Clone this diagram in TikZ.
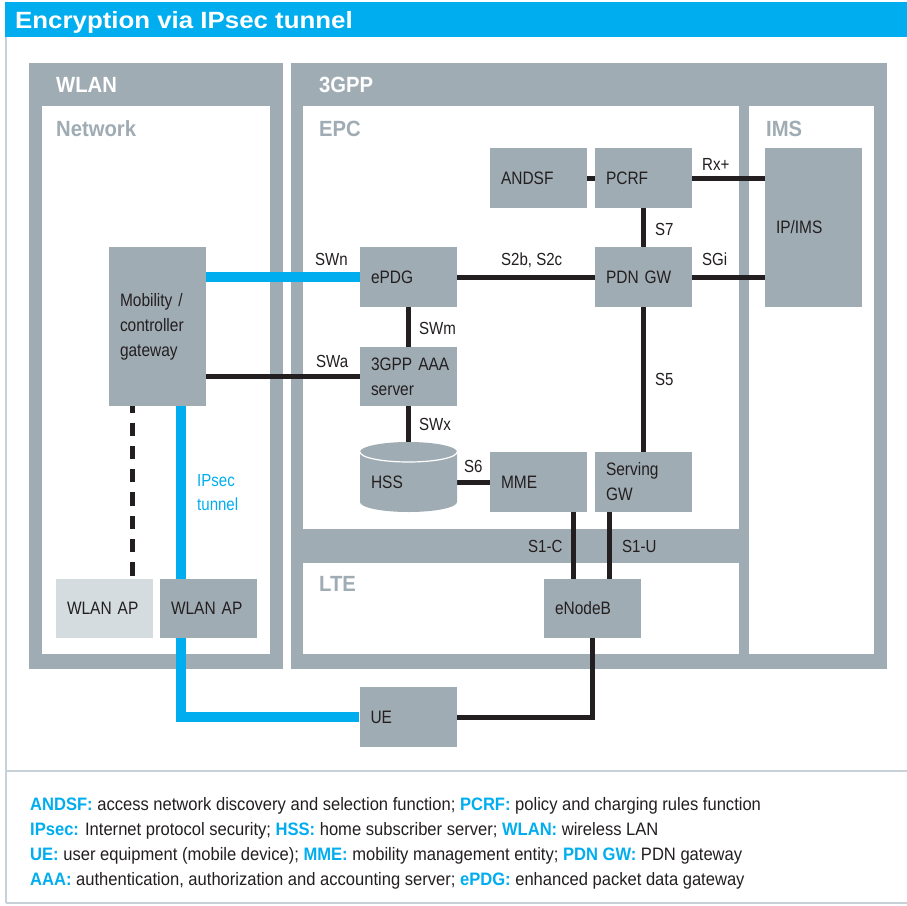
\documentclass[tikz,border=0pt]{standalone}
\usepackage{fontspec}
\setmainfont{Liberation Sans}[FakeStretch=0.86]
\newfontfamily\headfont{Liberation Sans}[FakeStretch=0.92]
\newfontfamily\titlefont{Liberation Sans}[FakeStretch=1.1]
\newfontfamily\legfont{Liberation Sans}[FakeStretch=0.92]

\definecolor{boxgray}{HTML}{A0ACB4}
\definecolor{apgray}{HTML}{D4DCDF}
\definecolor{ipblue}{HTML}{00AEEF}
\definecolor{ink}{HTML}{231F20}
\definecolor{rulegray}{HTML}{C8D1D8}

\pgfdeclarelayer{zones}
\pgfsetlayers{zones,main}

\newcommand\lgkey[1]{\textcolor{ipblue}{\bfseries #1}}

\tikzset{
  box/.style={rectangle, fill=boxgray, text=ink, minimum width=97pt,
    minimum height=60pt, inner xsep=11pt, inner ysep=0pt, text width=75pt,
    align=left, font=\fontsize{18}{25}\selectfont},
  lightbox/.style={box, fill=apgray},
  lbl/.style={anchor=base west, inner sep=0pt, text=ink,
    font=\fontsize{17.5}{21}\selectfont},
  blk/.style={draw=ink, line width=5pt},
  blu/.style={draw=ipblue, line width=9.5pt},
  zonehead/.style={anchor=base west, inner sep=0pt,
    font=\headfont\bfseries\fontsize{22}{26}\selectfont},
  legline/.style={anchor=base west, inner sep=0pt, text=ink,
    font=\legfont\fontsize{18}{20}\selectfont},
  frameline/.style={draw=rulegray, line width=1.5pt},
}

\begin{document}
\begin{tikzpicture}[x=1pt, y=-1pt]
\useasboundingbox (0,0) rectangle (907,905);

% ---------- frame and title ----------
\begin{pgfonlayer}{zones}
  \fill[white] (0,0) rectangle (907,905);
  \draw[frameline] (6,36) -- (6,903);
  \draw[frameline] (6,771) -- (907,771);
  \draw[frameline] (6,903) -- (907,903);
  \fill[ipblue] (5,2) rectangle (907,36.5);

  % WLAN zone
  \fill[boxgray] (29,63) rectangle (283,669);
  \fill[white] (42,106) rectangle (270,654);
  % 3GPP zone
  \fill[boxgray] (291,63) rectangle (887,669);
  \fill[white] (303,106) rectangle (739,529);
  \fill[white] (303,563) rectangle (739,654);
  \fill[white] (749,106) rectangle (874,654);
\end{pgfonlayer}

\node[anchor=base west, inner sep=0pt, text=white,
  font=\titlefont\bfseries\fontsize{23.5}{28}\selectfont] (title) at (15,28)
  {Encryption via IPsec tunnel};

\node[zonehead, text=white] (hwlan) at (56,92) {WLAN};
\node[zonehead, text=white] (h3gpp) at (319,92) {3GPP};
\node[zonehead, text=boxgray] (hnet) at (56,136) {Network};
\node[zonehead, text=boxgray] (hepc) at (319,136) {EPC};
\node[zonehead, text=boxgray] (hims) at (766,136) {IMS};
\node[zonehead, text=boxgray] (hlte) at (319,591) {LTE};

% ---------- network elements ----------
\node[box] (andsf) at (538.5,178) {ANDSF};
\node[box] (pcrf) at (643.5,178) {PCRF};
\node[box, minimum height=159pt] (ipims) at (813.5,227.5) {IP/IMS};
\node[box] (epdg) at (408.5,277) {ePDG};
\node[box] (pdngw) at (643.5,277) {PDN GW};
\node[box, minimum height=159pt] (mobgw) at (157.5,326.5)
  {Mobility /\\controller\\gateway};
\node[box, minimum height=59pt] (aaa) at (408.5,376.5) {\mbox{3GPP AAA}\\server};

% HSS database drawn as a cylinder
\fill[boxgray] (360,502) arc[start angle=180, end angle=360,
    x radius=48.5pt, y radius=10pt]
  -- (457,452) arc[start angle=0, end angle=180,
    x radius=48.5pt, y radius=10pt] -- cycle;
\draw[white, line width=1.2pt] (360,452) arc[start angle=180, end angle=360,
    x radius=48.5pt, y radius=10pt];
\node[box, fill=none] (hss) at (408.5,482) {HSS};

\node[box] (mme) at (538.5,482) {MME};
\node[box] (sgw) at (643.5,482) {Serving\\GW};
\node[box, minimum height=59pt] (enb) at (592.5,608.5) {eNodeB};
\node[lightbox, minimum height=59pt] (aplight) at (104.5,608.5) {WLAN AP};
\node[box, minimum height=59pt] (apdark) at (208.5,608.5) {WLAN AP};
\node[box] (ue) at (408,717) {UE};

% ---------- interfaces ----------
\begin{pgfonlayer}{zones}
  \draw[blu] (mobgw.east |- epdg.west) -- (epdg.west);
  \draw[blu] ([xshift=23.5pt]mobgw.south) |- (ue.west);
  \draw[blk, dash pattern=on 13.3pt off 10pt, dash phase=7pt]
    ([xshift=-25.5pt]mobgw.south) -- ([xshift=-25.5pt]mobgw.south |- aplight.north);
  \draw[blk] (mobgw.east |- aaa.west) -- (aaa.west);
  \draw[blk] (epdg.east) -- (pdngw.west);
  \draw[blk] (epdg.south) -- (aaa.north);
  \draw[blk] (aaa.south) -- (hss.north);
  \draw[blk] (hss.east) -- (mme.west);
  \draw[blk] (andsf.east) -- (pcrf.west);
  \draw[blk] (pcrf.east) -- (pcrf.east -| ipims.west);
  \draw[blk] (pcrf.south) -- (pdngw.north);
  \draw[blk] (pdngw.east) -- (pdngw.east -| ipims.west);
  \draw[blk] (pdngw.south) -- (sgw.north);
  \draw[blk] ([xshift=34.5pt]mme.south) -- ([xshift=34.5pt]mme.south |- enb.north);
  \draw[blk] ([xshift=-34.5pt]sgw.south) -- ([xshift=-34.5pt]sgw.south |- enb.north);
  \draw[blk] (enb.south) |- (ue.east);
\end{pgfonlayer}

% interface labels
\node[lbl] (lswn) at (315,265) {SWn};
\node[lbl] (ls2b) at (501,265) {S2b, S2c};
\node[lbl] (lswm) at (419,334) {SWm};
\node[lbl] (lswa) at (316,367) {SWa};
\node[lbl] (lswx) at (419,430) {SWx};
\node[lbl] (ls6) at (464,472) {S6};
\node[lbl] (lrx) at (702,170) {Rx+};
\node[lbl] (ls7) at (655,235) {S7};
\node[lbl] (lsgi) at (702,265) {SGi};
\node[lbl] (ls5) at (655,385) {S5};
\node[lbl] (ls1c) at (528,552) {S1-C};
\node[lbl] (ls1u) at (622,552) {S1-U};
\node[lbl, text=ipblue, align=left, anchor=north west,
  font=\fontsize{17.5}{24}\selectfont] (ltun) at (197,474) {IPsec\\tunnel};

% ---------- legend ----------
\node[legline] (leg1) at (30,810) {\lgkey{ANDSF:} access network discovery and selection function; \lgkey{PCRF:} policy and charging rules function};
\node[legline] (leg2) at (30,835) {\lgkey{IPsec:} Internet protocol security; \lgkey{HSS:} home subscriber server; \lgkey{WLAN:} wireless LAN};
\node[legline] (leg3) at (30,860) {\lgkey{UE:} user equipment (mobile device); \lgkey{MME:} mobility management entity; \lgkey{PDN GW:} PDN gateway};
\node[legline] (leg4) at (30,885) {\lgkey{AAA:} authentication, authorization and accounting server; \lgkey{ePDG:} enhanced packet data gateway};
\end{tikzpicture}
\end{document}
